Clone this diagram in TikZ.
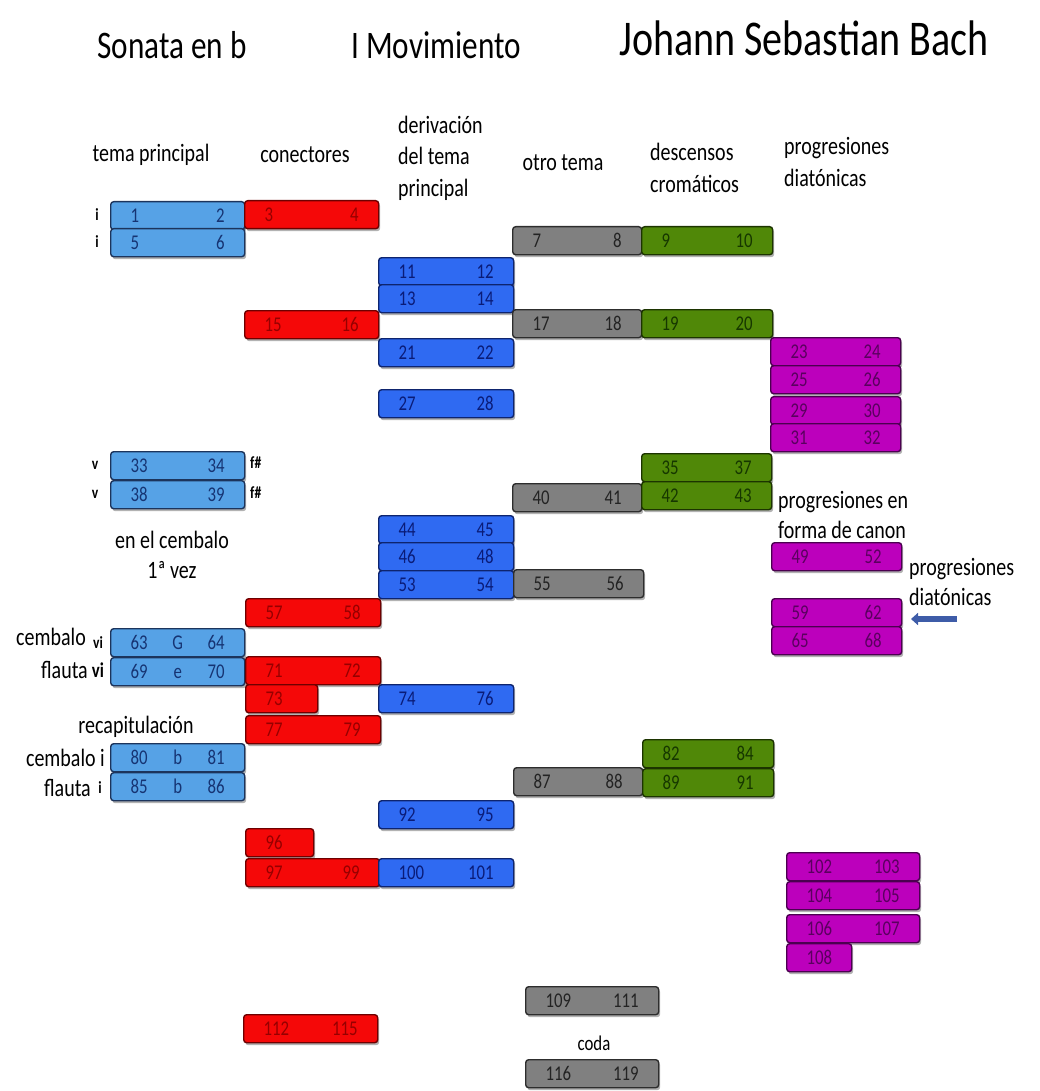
\documentclass[tikz,border=0pt]{standalone}
\usepackage{fontspec}
\setmainfont{Carlito}[FakeStretch=0.8]
\usetikzlibrary{shadows,arrows.meta}
\definecolor{temafill}{RGB}{86,162,230}
\definecolor{temadraw}{RGB}{28,52,92}
\definecolor{tematext}{RGB}{22,52,115}
\definecolor{derivfill}{RGB}{47,106,242}
\definecolor{derivdraw}{RGB}{14,36,110}
\definecolor{derivtext}{RGB}{10,28,120}
\definecolor{conecfill}{RGB}{245,8,8}
\definecolor{conecdraw}{RGB}{110,0,0}
\definecolor{conectext}{RGB}{150,0,0}
\definecolor{otrofill}{RGB}{128,128,128}
\definecolor{otrodraw}{RGB}{45,45,45}
\definecolor{otrotext}{RGB}{35,35,35}
\definecolor{cromfill}{RGB}{80,136,8}
\definecolor{cromdraw}{RGB}{28,52,0}
\definecolor{cromtext}{RGB}{22,55,0}
\definecolor{diatfill}{RGB}{188,0,188}
\definecolor{diatdraw}{RGB}{75,0,80}
\definecolor{diattext}{RGB}{90,0,95}
\definecolor{arrowblue}{RGB}{62,92,168}

\begin{document}
\begin{tikzpicture}[
        x=1pt, y=-1pt,
        bar/.style={rectangle, rounded corners=3pt, line width=1.4pt, anchor=north west, inner xsep=20pt, inner ysep=0pt, minimum height=28pt, font=\fontsize{21}{21}\selectfont, drop shadow={shadow xshift=1.5pt, shadow yshift=-2.5pt, opacity=0.3, fill=black}},
        barw/.style={text width=#1pt-40pt},
        tema/.style={bar, fill=temafill, draw=temadraw, text=tematext},
        conec/.style={bar, fill=conecfill, draw=conecdraw, text=conectext},
        deriv/.style={bar, fill=derivfill, draw=derivdraw, text=derivtext},
        otro/.style={bar, fill=otrofill, draw=otrodraw, text=otrotext},
        crom/.style={bar, fill=cromfill, draw=cromdraw, text=cromtext},
        diat/.style={bar, fill=diatfill, draw=diatdraw, text=diattext},
        header/.style={inner sep=0pt, align=left, font=\fontsize{25}{31.5}\selectfont},
        side/.style={inner sep=0pt, align=left, font=\fontsize{25}{30}\selectfont},
        degree/.style={inner sep=0pt, font=\fontsize{17}{17}\selectfont\bfseries}
    ]
    \useasboundingbox (0,0) rectangle (1039,1091);

    % Titles
    \node[inner sep=0pt, font=\fontsize{39}{39}\selectfont] (sonata) at (172,45) {Sonata en b};
    \node[inner sep=0pt, font=\fontsize{39}{39}\selectfont] (movim) at (436,45) {I Movimiento};
    \node[inner sep=0pt, font=\fontsize{50}{50}\selectfont] (bach) at (804,38) {Johann Sebastian Bach};

    % Column headers
    \node[header] (h_tema) at (151,155) {tema principal};
    \node[header] (h_conec) at (305,155) {conectores};
    \node[header, anchor=west] (h_deriv) at (398,158) {derivación\\del tema\\principal};
    \node[header] (h_otro) at (563,163) {otro tema};
    \node[header, anchor=west] (h_crom) at (650,168) {descensos\\cromáticos};
    \node[header, anchor=west] (h_diat) at (784,162) {progresiones\\diatónicas};

    % tema principal
    \node[tema, barw=134] (b1) at (110,201) {1\hfill 2};
    \node[tema, barw=134] (b5) at (110,228) {5\hfill 6};
    \node[tema, barw=134] (b33) at (110,451) {33\hfill 34};
    \node[tema, barw=134] (b38) at (110,480) {38\hfill 39};
    \node[tema, barw=134] (b63) at (110,628) {63\hfill G\hfill 64};
    \node[tema, barw=134] (b69) at (110,657) {69\hfill e\hfill 70};
    \node[tema, barw=134] (b80) at (110,743) {80\hfill b\hfill 81};
    \node[tema, barw=134] (b85) at (110,772) {85\hfill b\hfill 86};

    % conectores
    \node[conec, barw=134] (b3) at (244,200) {3\hfill 4};
    \node[conec, barw=134] (b15) at (244,310) {15\hfill 16};
    \node[conec, barw=135] (b57) at (245,598) {57\hfill 58};
    \node[conec, barw=135] (b71) at (245,656) {71\hfill 72};
    \node[conec, barw=72] (b73) at (245,684) {73\hfill};
    \node[conec, barw=135] (b77) at (245,715) {77\hfill 79};
    \node[conec, barw=68] (b96) at (245,828) {96\hfill};
    \node[conec, barw=134] (b97) at (245,858) {97\hfill 99};
    \node[conec, barw=134] (b112) at (243,1014) {112\hfill 115};

    % derivacion del tema principal
    \node[deriv, barw=135] (b11) at (378,257) {11\hfill 12};
    \node[deriv, barw=135] (b13) at (378,284) {13\hfill 14};
    \node[deriv, barw=135] (b21) at (378,338) {21\hfill 22};
    \node[deriv, barw=135] (b27) at (378,389) {27\hfill 28};
    \node[deriv, barw=135] (b44) at (378,515) {44\hfill 45};
    \node[deriv, barw=135] (b46) at (378,542) {46\hfill 48};
    \node[deriv, barw=135] (b53) at (378,570) {53\hfill 54};
    \node[deriv, barw=135] (b74) at (378,684) {74\hfill 76};
    \node[deriv, barw=135] (b92) at (378,800) {92\hfill 95};
    \node[deriv, barw=135] (b100) at (378,858) {100\hfill 101};

    % otro tema
    \node[otro, barw=129] (b7) at (512,226) {7\hfill 8};
    \node[otro, barw=129] (b17) at (512,309) {17\hfill 18};
    \node[otro, barw=129] (b40) at (512,483) {40\hfill 41};
    \node[otro, barw=130] (b55) at (513,569) {55\hfill 56};
    \node[otro, barw=129] (b87) at (513,767) {87\hfill 88};
    \node[otro, barw=133] (b109) at (525,986) {109\hfill 111};
    \node[otro, barw=133] (b116) at (525,1059) {116\hfill 119};

    % descensos cromaticos
    \node[crom, barw=131] (b9) at (641,226) {9\hfill 10};
    \node[crom, barw=131] (b19) at (641,309) {19\hfill 20};
    \node[crom, barw=130] (b35) at (641,453) {35\hfill 37};
    \node[crom, barw=130] (b42) at (641,481) {42\hfill 43};
    \node[crom, barw=131] (b82) at (642,739) {82\hfill 84};
    \node[crom, barw=131] (b89) at (642,768) {89\hfill 91};

    % progresiones diatonicas
    \node[diat, barw=130] (b23) at (770,337) {23\hfill 24};
    \node[diat, barw=130] (b25) at (770,365) {25\hfill 26};
    \node[diat, barw=130] (b29) at (770,396) {29\hfill 30};
    \node[diat, barw=130] (b31) at (770,423) {31\hfill 32};
    \node[diat, barw=130] (b49) at (771,542) {49\hfill 52};
    \node[diat, barw=130] (b59) at (771,598) {59\hfill 62};
    \node[diat, barw=130] (b65) at (771,626) {65\hfill 68};
    \node[diat, barw=133] (b102) at (786,852) {102\hfill 103};
    \node[diat, barw=133] (b104) at (786,881) {104\hfill 105};
    \node[diat, barw=133] (b106) at (786,914) {106\hfill 107};
    \node[diat, barw=65] (b108) at (786,943) {108\hfill};

    % degrees and notes beside the bars
    \node[degree] (i1) at (97,215) {i};
    \node[degree] (i5) at (97,242) {i};
    \node[degree] (v33) at (95,465) {v};
    \node[degree] (v38) at (95,494) {v};
    \node[degree, anchor=west] (f34) at (250,463) {f\#};
    \node[degree, anchor=west] (f39) at (250,493) {f\#};

    % side texts
    \node[side] (cemb1) at (172,540) {en el cembalo};
    \node[side] (vez) at (172,570) {1ª vez};
    \node[side, anchor=east] (cemb63) at (86,637) {cembalo};
    \node[degree] (vi63) at (98,643) {vi};
    \node[side, anchor=east] (flau69) at (88,670) {flauta};
    \node[degree, font=\fontsize{21}{21}\selectfont\bfseries] (vi69) at (98,670) {vi};
    \node[side] (recap) at (136,727) {recapitulación};
    \node[side, anchor=east] (cemb80) at (105,758) {cembalo i};
    \node[side, anchor=east] (flau85) at (91,788) {flauta};
    \node[degree] (i85) at (100,788) {i};
    \node[side, anchor=west] (canon) at (778,515) {progresiones en\\forma de canon};
    \node[side, anchor=west] (diat2) at (909,582) {progresiones\\diatónicas};
    \node[inner sep=0pt, font=\fontsize{21}{21}\selectfont] (coda) at (594,1043) {coda};

    % arrow
    \coordinate (arrtail) at (957,619);
    \coordinate (arrhead) at (911,619);
    \draw[arrowblue, line width=5.5pt, -{Triangle[length=7pt, width=12pt]}] (arrtail) -- (arrhead);

\end{tikzpicture}
\end{document}
